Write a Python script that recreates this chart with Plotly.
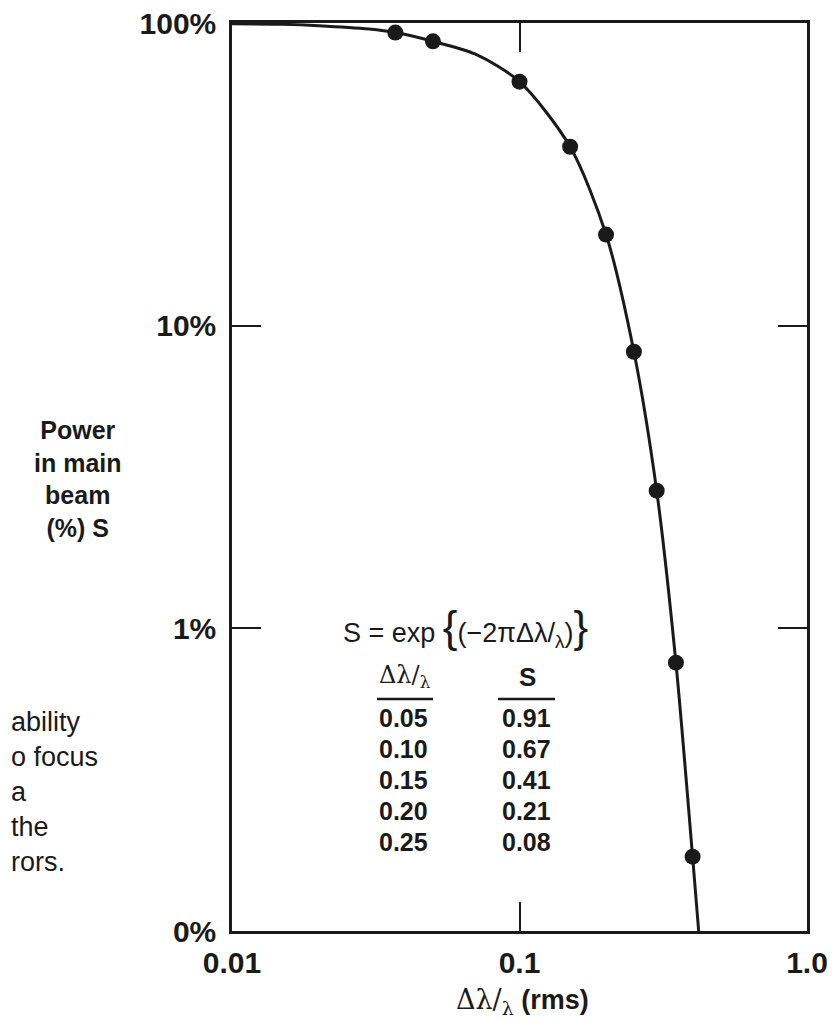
import plotly.graph_objects as go

# ---- data ----
curve_x = [0.01, 0.015, 0.02, 0.03, 0.037, 0.05, 0.07, 0.1, 0.15, 0.2, 0.25, 0.3, 0.35, 0.4, 0.42]
curve_s = [0.995, 0.99, 0.98, 0.955, 0.93, 0.87, 0.79, 0.64, 0.39, 0.20, 0.082, 0.0285, 0.0077, 0.00176, 0.001]

pts_x = [0.037, 0.05, 0.10, 0.15, 0.20, 0.25, 0.30, 0.35, 0.40]
pts_s = [0.93, 0.87, 0.64, 0.39, 0.20, 0.082, 0.0285, 0.0077, 0.00176]

x_tickvals = [0.01, 0.1, 1.0]
x_ticktext = ["0.01", "0.1", "1.0"]
y_tickvals = [0.001, 0.01, 0.1, 1.0]
y_ticktext = ["0%", "1%", "10%", "100%"]

tbl_dl = ["0.05", "0.10", "0.15", "0.20", "0.25"]
tbl_s = ["0.91", "0.67", "0.41", "0.21", "0.08"]

side_lines = ["ability", "o focus", "a", "the", "rors."]

# ---- layout geometry (screen pixels; page body has an 8px margin) ----
OFF = 8
W, H = 835 - OFF, 1023 - OFF
L, R, T, B = 232, 807, 23, 931


def px(x):
    return (x - L) / (R - L)


def py(y):
    return (B - y) / (B - T)


FONT = "Liberation Sans, Arial, Helvetica, sans-serif"
INK = "#1a1a1a"

fig = go.Figure()
fig.add_trace(go.Scatter(x=curve_x, y=curve_s, mode="lines",
                         line=dict(color=INK, width=3, shape="spline", smoothing=0.8),
                         hoverinfo="skip", showlegend=False))
fig.add_trace(go.Scatter(x=pts_x, y=pts_s, mode="markers",
                         marker=dict(color=INK, size=16),
                         showlegend=False))


def note(x, y, text, size, xanchor="center", **kw):
    return dict(x=px(x), y=py(y), xref="paper", yref="paper", xanchor=xanchor,
                yanchor="middle", text=text, showarrow=False,
                font=dict(family=FONT, size=size, color=INK), **kw)


ann = []
ann.append(note(78, 479, "<b>Power<br>in main<br>beam<br>(%) S</b>", 25, align="center"))
ann.append(note(522, 1001,
                "<span style='font-family:DejaVu Serif'>Δλ/<sub>λ</sub></span> <b>(rms)</b>", 27))
ann.append(note(465, 627,
                "S = exp <span style='font-size:44px'>{</span>(−2πΔλ/<sub>λ</sub>)<span style='font-size:44px'>}</span>",
                27))
ann.append(note(405, 677, "<span style='font-family:DejaVu Serif'>Δλ/<sub>λ</sub></span>", 24))
ann.append(note(527, 677, "<b>S</b>", 26))
for i, (a, b) in enumerate(zip(tbl_dl, tbl_s)):
    yy = 718 + 31 * i
    ann.append(note(403, yy, "<b>" + a + "</b>", 25))
    ann.append(note(526, yy, "<b>" + b + "</b>", 25))
for i, s in enumerate(side_lines):
    ann.append(note(9, 722 + 35 * i, s, 27, xanchor="left"))

shapes = [
    dict(type="line", xref="paper", yref="paper", x0=px(377), x1=px(433),
         y0=py(699), y1=py(699), line=dict(color=INK, width=2.5)),
    dict(type="line", xref="paper", yref="paper", x0=px(498), x1=px(555),
         y0=py(699), y1=py(699), line=dict(color=INK, width=2.5)),
]

fig.update_layout(
    width=W, height=H,
    margin=dict(l=L - OFF, r=W - (R - OFF), t=T - OFF, b=H - (B - OFF)),
    paper_bgcolor="white", plot_bgcolor="white",
    annotations=ann, shapes=shapes,
    font=dict(family=FONT, color=INK),
    xaxis=dict(type="log", range=[-2, 0], tickvals=x_tickvals, ticktext=x_ticktext,
               ticks="inside", ticklen=29, tickwidth=1.5, tickcolor=INK,
               showline=True, linewidth=2.5, linecolor=INK, mirror="ticks",
               showgrid=False, zeroline=False, ticklabelstandoff=3,
               ticklabeloverflow="allow", automargin=False,
               tickfont=dict(family=FONT, size=30, color=INK, weight="bold")),
    yaxis=dict(type="log", range=[-3, 0], tickvals=y_tickvals, ticktext=y_ticktext,
               ticks="inside", ticklen=29, tickwidth=1.5, tickcolor=INK,
               showline=True, linewidth=2.5, linecolor=INK, mirror="ticks",
               showgrid=False, zeroline=False, ticklabelstandoff=7,
               ticklabeloverflow="allow", automargin=False,
               tickfont=dict(family=FONT, size=30, color=INK, weight="bold")),
)

fig.write_html("out.html")
